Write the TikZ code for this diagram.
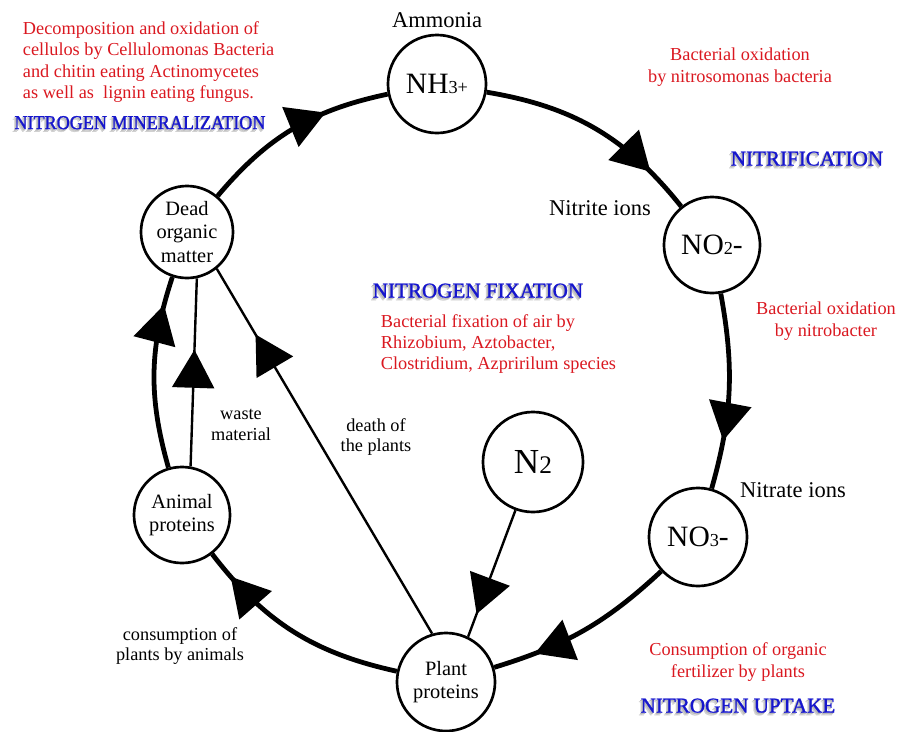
\documentclass[tikz,border=0pt]{standalone}
\usepackage{fontspec}
\setmainfont{Liberation Serif}
\newfontfamily\headfont[FakeBold=1.2]{Liberation Serif}
\newfontfamily\narrowhead[FakeStretch=0.92,FakeBold=1.2]{Liberation Serif}
\usetikzlibrary{arrows.meta,positioning,decorations.markings}

\definecolor{noteRed}{RGB}{218,24,32}
\definecolor{headBlue}{RGB}{22,22,205}

% heading with a soft grey shadow
\newcommand{\shadowed}[1]{%
  \makebox[0pt][l]{\kern-1.6pt\raisebox{-1.9pt}{\textcolor{black!18}{#1}}}%
  \makebox[0pt][l]{\kern-0.8pt\raisebox{-1.0pt}{\textcolor{black!28}{#1}}}%
  \textcolor{headBlue}{#1}}
\newcommand{\ionpart}[1]{{\fontsize{13}{15}\selectfont #1}}

\begin{document}
\begin{tikzpicture}[
  x=0.025cm, y=-0.025cm,
  species/.style={circle,draw,line width=1.9pt,minimum size=2.45cm,inner sep=0pt,align=center,
    font=\fontsize{14.5}{16.5}\selectfont},
  formula/.style={font=\fontsize{21}{24}\selectfont},
  cycle/.style={line width=3.4pt},
  link/.style={line width=1.7pt},
  flowtip/.style={postaction={decorate},
    decoration={markings,mark=at position #1 with {\arrow{Triangle[length=0.95cm,width=1.05cm]}}}},
  tag/.style={font=\fontsize{16}{18}\selectfont},
  remark/.style={align=center,font=\fontsize{13}{14.5}\selectfont},
  note/.style={text=noteRed,font=\fontsize{13}{15.2}\selectfont},
  heading/.style={font=\headfont\fontsize{15}{17}\selectfont}
]
\useasboundingbox (0,0) rectangle (904,732);

% the compounds
\node[species] (dead) at (187,232) [minimum size=2.3cm] {Dead\\organic\\matter};
\node[species,formula] (nh3) at (437,84) {NH\ionpart{3+}};
\node[species,formula] (no2) at (712,245) [minimum size=2.4cm] {NO\ionpart{2}-};
\node[species,formula] (no3) at (698,537) {NO\ionpart{3}-};
\node[species] (plant) at (446,682) {Plant\\proteins};
\node[species] (animal) at (182,515) [minimum size=2.4cm] {Animal\\proteins};
\node[species,font=\fontsize{25}{28}\selectfont] (n2) at (533,462) [minimum size=2.5cm] {N{\fontsize{18}{20}\selectfont 2}};

% names beside the nodes
\node[tag,above=1pt of nh3] (ammonia) {Ammonia};
\node[tag] (nitrite) at (600,208) {Nitrite ions};
\node[tag] (nitrate) at (793,490) {Nitrate ions};

% the nitrogen cycle
\draw[cycle,flowtip=0.68] (dead) to[bend left=19] (nh3);
\draw[cycle,flowtip=0.8] (nh3) to[bend left=21] (no2);
\draw[cycle,flowtip=0.75] (no2) to[bend left=13] (no3);
\draw[cycle,flowtip=0.78] (no3) to[bend left=13] (plant);
\draw[cycle,flowtip=0.87] (plant) to[bend left=20] (animal);
\draw[cycle,flowtip=0.85] (animal) to[bend left=17] (dead);

% side paths
\draw[link,flowtip=0.62] (animal.80) -- (dead.-78);
\draw[link,flowtip=0.82] (plant.106) -- (dead.-51);
\draw[link,flowtip=0.82] (n2.-110) -- (plant.64);

\node[remark] (waste) at (241,425) {waste\\material};
\node[remark] (death) at (376,437) {death of\\the plants};
\node[remark] (eaten) at (180,646) {consumption of\\plants by animals};

% processes
\node[note,anchor=west,align=left] (decomp) at (18,62) {Decomposition and oxidation of\\cellulos by Cellulomonas Bacteria\\and chitin eating Actinomycetes\\as well as\ \ lignin eating fungus.};
\node[heading,font=\narrowhead\fontsize{14}{16}\selectfont] (mineral) at (140,124) {\shadowed{NITROGEN MINERALIZATION}};

\node[note,align=center] (nitroso) at (740,67) {Bacterial oxidation\\by nitrosomonas bacteria};
\node[heading] (nitrif) at (807,160) {\shadowed{NITRIFICATION}};

\node[note,align=center] (nitrob) at (826,321) {Bacterial oxidation\\by nitrobacter};

\node[heading] (fixation) at (478,292) {\shadowed{NITROGEN FIXATION}};
\node[note,anchor=west,align=left] (fixnote) at (376,344) {Bacterial fixation of air by\\Rhizobium, Aztobacter,\\Clostridium, Azpririlum species};

\node[note,align=center] (fert) at (738,662) {Consumption of organic\\fertilizer by plants};
\node[heading] (uptake) at (738,707) {\shadowed{NITROGEN UPTAKE}};
\end{tikzpicture}
\end{document}
